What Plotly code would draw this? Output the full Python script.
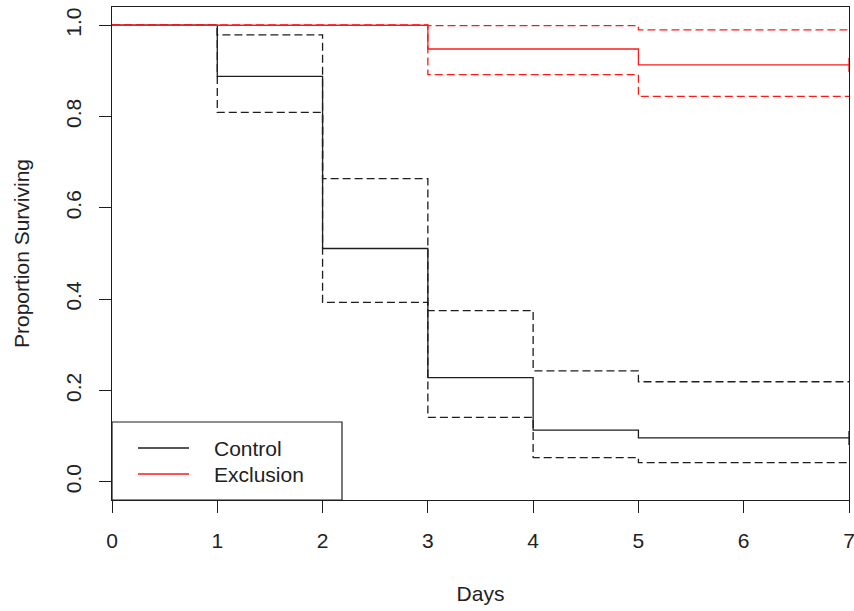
import plotly.graph_objects as go

# Kaplan-Meier survival estimates with 95% confidence limits
control_days = [0, 1, 2, 3, 4, 5, 7]
control_surv = [1.0, 0.888, 0.511, 0.228, 0.113, 0.096, 0.096]
control_upper = [1.0, 0.979, 0.664, 0.375, 0.243, 0.219, 0.219]
control_lower = [1.0, 0.809, 0.393, 0.141, 0.053, 0.042, 0.042]

exclusion_days = [0, 3, 5, 7]
exclusion_surv = [1.0, 0.948, 0.913, 0.913]
exclusion_upper = [1.0, 0.999, 0.990, 0.990]
exclusion_lower = [1.0, 0.892, 0.844, 0.844]

x_ticks = [0, 1, 2, 3, 4, 5, 6, 7]
y_ticks = [0.0, 0.2, 0.4, 0.6, 0.8, 1.0]
y_tick_labels = ["0.0", "0.2", "0.4", "0.6", "0.8", "1.0"]

BLACK = "#1e1e1e"
RED = "#ff1a1a"
FONT = "Liberation Sans, Arial, sans-serif"

fig = go.Figure()

def step(x, y, color, dash, name):
    fig.add_trace(go.Scatter(
        x=x, y=y, mode="lines", line_shape="hv", name=name,
        line=dict(color=color, width=1.3, dash=dash),
        showlegend=False, hoverinfo="skip"))

step(control_days, control_upper, BLACK, "8px,4px", "Control upper")
step(control_days, control_lower, BLACK, "8px,4px", "Control lower")
step(control_days, control_surv, BLACK, "solid", "Control")
step(exclusion_days, exclusion_upper, RED, "8px,4px", "Exclusion upper")
step(exclusion_days, exclusion_lower, RED, "8px,4px", "Exclusion lower")
step(exclusion_days, exclusion_surv, RED, "solid", "Exclusion")

# censoring marks at end of follow-up
fig.add_trace(go.Scatter(
    x=[control_days[-1]], y=[control_surv[-1]], mode="markers",
    marker=dict(symbol="line-ns", size=10, line=dict(color=BLACK, width=1.3)),
    showlegend=False, hoverinfo="skip"))
fig.add_trace(go.Scatter(
    x=[exclusion_days[-1]], y=[exclusion_surv[-1]], mode="markers",
    marker=dict(symbol="line-ns", size=10, line=dict(color=RED, width=1.3)),
    showlegend=False, hoverinfo="skip"))

# Legend box (drawn like R's legend)
L, B, R_, T = 0.0, 0.0, 230 / 737, 78 / 493
fig.add_shape(type="rect", xref="paper", yref="paper", x0=L, x1=R_, y0=B, y1=T,
              line=dict(color=BLACK, width=1.2), fillcolor="white", layer="above")
legend_names = ["Control", "Exclusion"]
legend_colors = [BLACK, RED]
legend_y = [(500 - 448) / 493, (500 - 474) / 493]
for nm, col, yy in zip(legend_names, legend_colors, legend_y):
    fig.add_shape(type="line", xref="paper", yref="paper",
                  x0=(138 - 112) / 737, x1=(189 - 112) / 737, y0=yy, y1=yy,
                  line=dict(color=col, width=1.3), layer="above")
    fig.add_annotation(text=nm, xref="paper", yref="paper",
                       x=(212 - 112) / 737, y=yy, xanchor="left", yanchor="middle",
                       showarrow=False, font=dict(size=21, color="#222", family=FONT))

fig.update_layout(
    width=854, height=611,
    margin=dict(l=112, r=5, t=7, b=111),
    paper_bgcolor="white", plot_bgcolor="white",
    font=dict(family=FONT, size=21, color="#222"),
)
fig.update_xaxes(
    range=[0, 7], tickvals=x_ticks, ticks="outside", ticklen=12, tickwidth=1.2,
    tickcolor=BLACK, showline=True, linecolor=BLACK, linewidth=1.2, mirror=True,
    showgrid=False, zeroline=False, ticklabelstandoff=10, ticklabeloverflow="allow",
    automargin=False,
    title=dict(text="Days", standoff=35, font=dict(size=21)),
)
fig.update_yaxes(
    range=[-0.04, 1.04], tickvals=y_ticks, ticktext=y_tick_labels, tickangle=-90,
    ticks="outside", ticklen=12, tickwidth=1.2, tickcolor=BLACK,
    showline=True, linecolor=BLACK, linewidth=1.2, mirror=True,
    showgrid=False, zeroline=False, ticklabelstandoff=10, ticklabeloverflow="allow",
    automargin=False,
    title=dict(text="Proportion Surviving", standoff=26, font=dict(size=21)),
)

fig.write_html("out.html")
